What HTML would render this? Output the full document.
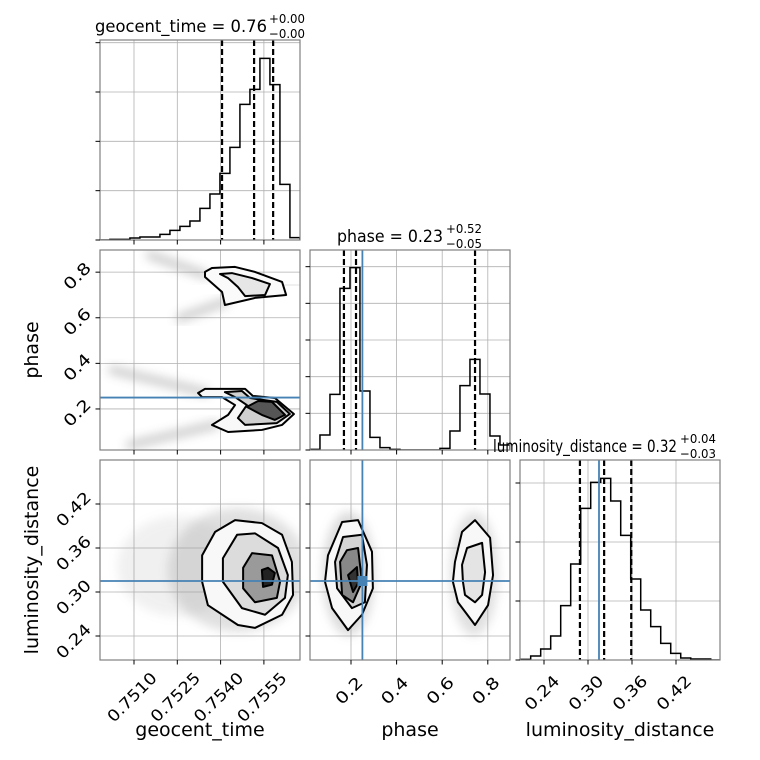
<!DOCTYPE html>
<html><head><meta charset="utf-8"><style>
html,body{margin:0;padding:0;background:#fff;width:760px;height:760px;overflow:hidden}
svg text{font-family:"DejaVu Sans","Liberation Sans",sans-serif;fill:#000}
</style></head><body>
<svg id="chart" width="760" height="760" viewBox="0 0 760 760" xmlns="http://www.w3.org/2000/svg">
<defs>
<filter id="blur" x="-50%" y="-50%" width="200%" height="200%"><feGaussianBlur stdDeviation="5"/></filter>
</defs>
</svg>
<script>
// ---- data ----
const geoBinStart = 0.74982, geoBinWidth = 0.0003464;
const geoCounts = [0,2,2,6,9,9,17,29,41,57,95,138,200,278,407,452,545,466,167,7];
const phaseBinStart = 0.02, phaseBinWidth = 0.04386;
const phaseCounts = [2,45,167,485,547,177,38,7,2,0,0,0,0,5,57,193,272,168,42,15];
const lumBinStart = 0.2082, lumBinWidth = 0.01364;
const lumCounts = [2,12,33,72,163,288,455,533,545,477,374,243,150,100,50,20,6,3,3,0];
const geoQuantiles = [0.75405, 0.75516, 0.75582];
const phaseQuantiles = [0.169, 0.222, 0.744];
const lumQuantiles = [0.289, 0.322, 0.359];
const truthPhase = 0.25, truthLum = 0.315;
const geoTicks = [0.7510, 0.7525, 0.7540, 0.7555];
const geoTickLabels = ["0.7510","0.7525","0.7540","0.7555"];
const phaseTicks = [0.2, 0.4, 0.6, 0.8];
const phaseTickLabels = ["0.2","0.4","0.6","0.8"];
const lumTicks = [0.24, 0.30, 0.36, 0.42];
const lumTickLabels = ["0.24","0.30","0.36","0.42"];
const geoHistTicks = [0,148,296,444,592];
const phaseHistTicks = [0,110,220,330,440,550];
const lumHistTicks = [0,177,354,531];
// contours (geocent, phase)
const gpContours = [
 {fill:"#fafafa", pts:[[0.75346,0.801],[0.75370,0.818],[0.75450,0.823],[0.75519,0.801],[0.75613,0.757],[0.75627,0.700],[0.75519,0.687],[0.75415,0.656],[0.75405,0.713],[0.75346,0.779]]},
 {fill:"#e6e6e6", pts:[[0.75398,0.792],[0.75439,0.796],[0.75509,0.774],[0.75571,0.748],[0.75554,0.700],[0.75485,0.695],[0.75460,0.735],[0.75426,0.774]]},
 {fill:"#f8f8f8", pts:[[0.75322,0.270],[0.75346,0.288],[0.75485,0.288],[0.75512,0.257],[0.75588,0.248],[0.75654,0.178],[0.75613,0.130],[0.75543,0.108],[0.75426,0.099],[0.75370,0.130],[0.75426,0.174],[0.75450,0.217],[0.75405,0.252],[0.75336,0.252]]},
 {fill:"#d0d0d0", pts:[[0.75415,0.274],[0.75474,0.279],[0.75502,0.248],[0.75595,0.231],[0.75640,0.178],[0.75595,0.138],[0.75485,0.130],[0.75460,0.160],[0.75491,0.217],[0.75450,0.252]]},
 {fill:"#555", pts:[[0.75491,0.209],[0.75530,0.235],[0.75578,0.231],[0.75623,0.174],[0.75588,0.152],[0.75543,0.174]]}
];
// contours (geocent, luminosity)
const glContours = [
 {fill:"#f8f8f8", pts:[[0.75336,0.350],[0.75381,0.382],[0.75450,0.398],[0.75543,0.394],[0.75613,0.378],[0.75647,0.341],[0.75651,0.296],[0.75613,0.269],[0.75519,0.251],[0.75460,0.255],[0.75356,0.282],[0.75336,0.314]]},
 {fill:"#dcdcdc", pts:[[0.75408,0.346],[0.75457,0.378],[0.75519,0.380],[0.75599,0.360],[0.75633,0.323],[0.75623,0.292],[0.75554,0.269],[0.75474,0.278],[0.75408,0.314]]},
 {fill:"#9a9a9a", pts:[[0.75478,0.333],[0.75509,0.353],[0.75578,0.350],[0.75606,0.314],[0.75595,0.292],[0.75519,0.286],[0.75478,0.305]]},
 {fill:"#222", pts:[[0.75543,0.330],[0.75564,0.333],[0.75588,0.326],[0.75578,0.310],[0.75547,0.307]]}
];
// contours (phase, luminosity)
const plContours = [
 {fill:"#f8f8f8", pts:[[0.099,0.350],[0.161,0.3955],[0.231,0.398],[0.292,0.355],[0.296,0.305],[0.248,0.269],[0.187,0.248],[0.117,0.278],[0.086,0.314]]},
 {fill:"#d4d4d4", pts:[[0.130,0.341],[0.165,0.375],[0.248,0.378],[0.270,0.337],[0.261,0.286],[0.204,0.278],[0.139,0.305]]},
 {fill:"#888", pts:[[0.152,0.341],[0.182,0.357],[0.231,0.360],[0.248,0.314],[0.209,0.286],[0.161,0.296]]},
 {fill:"#333", pts:[[0.187,0.323],[0.226,0.334],[0.231,0.312],[0.209,0.300]]},
 {fill:"#f8f8f8", pts:[[0.656,0.341],[0.687,0.382],[0.744,0.398],[0.810,0.374],[0.823,0.323],[0.801,0.282],[0.744,0.255],[0.669,0.286],[0.647,0.314]]},
 {fill:"#e4e4e4", pts:[[0.687,0.337],[0.709,0.360],[0.775,0.367],[0.788,0.327],[0.775,0.296],[0.744,0.286],[0.700,0.296],[0.691,0.314]]}
];
// scatter bands (geocent, phase)
const gpBands = [
 [[0.75155,0.875],[0.75346,0.788]],
 [[0.75259,0.599],[0.75415,0.669]],
 [[0.75520,0.745],[0.75675,0.744]],
 [[0.75024,0.371],[0.75346,0.274]],
 [[0.75086,0.042],[0.75381,0.130]]
];

// ---- scales ----
const gx = v => 134 + (v - 0.7510) / 0.0015 * 43.3;
const phx = v => 351 + (v - 0.2) * 228;
const phy = v => 450 - (v - 0.02) * 228;
const lx = v => 544 + (v - 0.24) / 0.06 * 44;
const ly = v => 636 - (v - 0.24) / 0.06 * 44;
const h1 = c => 240 - c / 3;
const h2 = c => 450 - c / 3;
const h3 = c => 660 - c / 3;

const svg = document.getElementById('chart');
const NS = "http://www.w3.org/2000/svg";
function mk(tag, attrs, parent){
  const e = document.createElementNS(NS, tag);
  for (const k in attrs) e.setAttribute(k, attrs[k]);
  (parent || svg).appendChild(e);
  return e;
}
const BLUE = "#4682b4";

const panels = [
 {id:"geocent-hist", x:100, y:40},
 {id:"phase-vs-geocent", x:100, y:250},
 {id:"phase-hist", x:310, y:250},
 {id:"lum-vs-geocent", x:100, y:460},
 {id:"lum-vs-phase", x:310, y:460},
 {id:"lum-hist", x:520, y:460}
];
const groups = {};
panels.forEach(p => {
  const cp = mk('clipPath', {id:'clip-'+p.id}, svg.querySelector('defs'));
  mk('rect', {x:p.x, y:p.y, width:200, height:200}, cp);
  const g = mk('g', {});
  
  
  const inner = mk('g', {'clip-path':'url(#clip-'+p.id+')'}, g);
  groups[p.id] = {g, inner, p};
});

function grid(id, xs, xf, ys, yf){
  const {inner, p} = groups[id];
  xs.forEach(v => { const X = xf(v); const l = mk('line', {x1:X, x2:X, y1:p.y, y2:p.y+200, stroke:"#b0b0b0", 'stroke-width':0.8}, inner);
      });
  ys.forEach(v => { const Y = yf(v); const l = mk('line', {x1:p.x, x2:p.x+200, y1:Y, y2:Y, stroke:"#b0b0b0", 'stroke-width':0.8}, inner);
      });
}
function frameTicks(id, xs, xf, ys, yf){
  const {g, p} = groups[id];
  const r = mk('rect', {x:p.x, y:p.y, width:200, height:200, fill:"none", stroke:"#808080", 'stroke-width':1.2}, g);
   
  xs.forEach(v => { const X = xf(v); mk('line', {x1:X, x2:X, y1:p.y+200, y2:p.y+204.5, stroke:"#000", 'stroke-width':1}, g); });
  ys.forEach(v => { const Y = yf(v); mk('line', {x1:p.x-4.5, x2:p.x, y1:Y, y2:Y, stroke:"#000", 'stroke-width':1}, g); });
}
function hist(id, start, width, counts, xf, yf){
  const {inner} = groups[id];
  let d = "M" + xf(start) + "," + yf(0);
  counts.forEach((c, i) => {
    const a = xf(start + i*width), b = xf(start + (i+1)*width);
    d += " L" + a + "," + yf(c) + " L" + b + "," + yf(c);
  });
  d += " L" + xf(start + counts.length*width) + "," + yf(0);
  const p = mk('path', {d, fill:"none", stroke:"#000", 'stroke-width':1.5}, inner);
  
  
}
function vline(id, X, color, dash, name){
  const {inner, p} = groups[id];
  const l = mk('line', {x1:X, x2:X, y1:p.y, y2:p.y+200, stroke:color, 'stroke-width': dash ? 2.2 : 1.8}, inner);
  if (dash) l.setAttribute('stroke-dasharray', '6,3');
  
  
}
function hline(id, Y, name){
  const {inner, p} = groups[id];
  const l = mk('line', {x1:p.x, x2:p.x+200, y1:Y, y2:Y, stroke:BLUE, 'stroke-width':1.8}, inner);
  
  
}
function contours(id, list, xf, yf){
  const {inner} = groups[id];
  list.forEach(c => {
    const pts = c.pts.map(q => xf(q[0]) + "," + yf(q[1])).join(" ");
    const pg = mk('polygon', {points:pts, fill:c.fill, stroke:"#000", 'stroke-width':2, 'stroke-linejoin':'round'}, inner);
    
    
  });
}
function cloud(id, cx, cy, rx, ry, op){
  const {inner} = groups[id];
  const e = mk('ellipse', {cx, cy, rx, ry, fill:"#9a9a9a", opacity:op, filter:"url(#blur)"}, inner);
  
  
}

// geocent hist
grid("geocent-hist", geoTicks, gx, geoHistTicks, h1);
hist("geocent-hist", geoBinStart, geoBinWidth, geoCounts, gx, h1);
geoQuantiles.forEach(q => vline("geocent-hist", gx(q), "#000", true, "quantile-line"));
frameTicks("geocent-hist", geoTicks, gx, geoHistTicks, h1);

// phase vs geocent
grid("phase-vs-geocent", geoTicks, gx, phaseTicks, phy);
gpBands.forEach(b => {
  const l = mk('line', {x1:gx(b[0][0]), y1:phy(b[0][1]), x2:gx(b[1][0]), y2:phy(b[1][1]), stroke:"#888", 'stroke-width':8, opacity:0.45, filter:"url(#blur)", 'stroke-linecap':'round'}, groups["phase-vs-geocent"].inner);
   
});
contours("phase-vs-geocent", gpContours, gx, phy);
hline("phase-vs-geocent", phy(truthPhase), "truth-phase-line");
frameTicks("phase-vs-geocent", geoTicks, gx, phaseTicks, phy);

// phase hist
grid("phase-hist", phaseTicks, phx, phaseHistTicks, h2);
hist("phase-hist", phaseBinStart, phaseBinWidth, phaseCounts, phx, h2);
phaseQuantiles.forEach(q => vline("phase-hist", phx(q), "#000", true, "quantile-line"));
vline("phase-hist", phx(truthPhase), BLUE, false, "truth-phase-line");
frameTicks("phase-hist", phaseTicks, phx, phaseHistTicks, h2);

// lum vs geocent
grid("lum-vs-geocent", geoTicks, gx, lumTicks, ly);
cloud("lum-vs-geocent", gx(0.7546), ly(0.330), 70, 62, 0.3);
cloud("lum-vs-geocent", gx(0.7525), ly(0.335), 60, 50, 0.14);
contours("lum-vs-geocent", glContours, gx, ly);
hline("lum-vs-geocent", ly(truthLum), "truth-lum-line");
frameTicks("lum-vs-geocent", geoTicks, gx, lumTicks, ly);

// lum vs phase
grid("lum-vs-phase", phaseTicks, phx, lumTicks, ly);
cloud("lum-vs-phase", phx(0.19), ly(0.325), 26, 62, 0.35);
cloud("lum-vs-phase", phx(0.74), ly(0.325), 24, 62, 0.3);
contours("lum-vs-phase", plContours, phx, ly);
hline("lum-vs-phase", ly(truthLum), "truth-lum-line");
vline("lum-vs-phase", phx(truthPhase), BLUE, false, "truth-phase-line");
const dot = mk('rect', {x:phx(truthPhase)-5, y:ly(truthLum)-5, width:10, height:10, fill:BLUE}, groups["lum-vs-phase"].inner);
 
frameTicks("lum-vs-phase", phaseTicks, phx, lumTicks, ly);

// lum hist
grid("lum-hist", lumTicks, lx, lumHistTicks, h3);
hist("lum-hist", lumBinStart, lumBinWidth, lumCounts, lx, h3);
lumQuantiles.forEach(q => vline("lum-hist", lx(q), "#000", true, "quantile-line"));
vline("lum-hist", lx(truthLum), BLUE, false, "truth-lum-line");
frameTicks("lum-hist", lumTicks, lx, lumHistTicks, h3);

// tick labels
function rotLabel(X, Y, txt, name){
  const t = mk('text', {x:X, y:Y, 'font-size':16, 'text-anchor':'middle', 'dominant-baseline':'central',
    textLength: txt.length * 10.4, lengthAdjust:'spacingAndGlyphs', transform:`rotate(-45 ${X} ${Y})`});
  t.textContent = txt;
  
  
}
function xLabels(ticks, labels, f, name){
  ticks.forEach((v, i) => {
    const n = labels[i].length;
    rotLabel(f(v) - 2, 684 + n * 2.2, labels[i], name);
  });
}
function yLabels(ticks, labels, f, name){
  ticks.forEach((v, i) => {
    const n = labels[i].length;
    rotLabel(88 - n * 3.6, f(v) + n * 1.3, labels[i], name);
  });
}
xLabels(geoTicks, geoTickLabels, gx, "x-tick-label-geocent");
xLabels(phaseTicks, phaseTickLabels, phx, "x-tick-label-phase");
xLabels(lumTicks, lumTickLabels, lx, "x-tick-label-lum");
yLabels(phaseTicks, phaseTickLabels, phy, "y-tick-label-phase");
yLabels(lumTicks, lumTickLabels, ly, "y-tick-label-lum");
</script>
<svg style="position:absolute;left:0;top:0" width="760" height="760">
<g font-family="DejaVu Sans, Liberation Sans, sans-serif">
<text x="200" y="736" font-size="19" text-anchor="middle">geocent_time</text>
<text x="410" y="736" font-size="19" text-anchor="middle">phase</text>
<text x="620" y="736" font-size="19" text-anchor="middle">luminosity_distance</text>
<text x="38" y="350" font-size="19" text-anchor="middle" transform="rotate(-90 38 350)">phase</text>
<text x="38" y="560" font-size="19" text-anchor="middle" transform="rotate(-90 38 560)">luminosity_distance</text>
<g>
<text x="95" y="32" font-size="17" textLength="172" lengthAdjust="spacingAndGlyphs">geocent_time = 0.76</text>
<text x="269" y="23" font-size="12.5" textLength="36" lengthAdjust="spacingAndGlyphs">+0.00</text>
<text x="269" y="38" font-size="12.5" textLength="36" lengthAdjust="spacingAndGlyphs">−0.00</text>
</g>
<g>
<text x="337" y="242" font-size="17" textLength="106" lengthAdjust="spacingAndGlyphs">phase = 0.23</text>
<text x="446" y="233" font-size="12.5" textLength="36" lengthAdjust="spacingAndGlyphs">+0.52</text>
<text x="446" y="248" font-size="12.5" textLength="36" lengthAdjust="spacingAndGlyphs">−0.05</text>
</g>
<g>
<text x="493" y="452" font-size="17" textLength="184" lengthAdjust="spacingAndGlyphs">luminosity_distance = 0.32</text>
<text x="680" y="443" font-size="12.5" textLength="36" lengthAdjust="spacingAndGlyphs">+0.04</text>
<text x="680" y="458" font-size="12.5" textLength="36" lengthAdjust="spacingAndGlyphs">−0.03</text>
</g>
</g>
</svg>
</body></html>
